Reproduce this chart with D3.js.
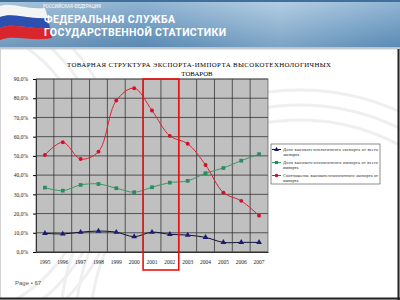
<!DOCTYPE html>
<html><head><meta charset="utf-8">
<script src="https://cdn.jsdelivr.net/npm/d3@7"></script>
<style>body{margin:0;background:#fff}svg{display:block}</style>
</head><body>
<script>
const years = ["1995","1996","1997","1998","1999","2000","2001","2002","2003","2004","2005","2006","2007"];
const exportShare = [9.7,9.4,10.3,10.9,10.3,8.0,10.3,9.2,8.8,7.6,5.0,5.0,5.0];
const importShare = [33.5,31.9,34.9,35.4,33.2,31.1,33.7,36.1,37.0,41.0,43.7,47.5,50.9];
const ratio = [50.5,57.1,48.4,52.2,78.8,85.2,73.6,60.4,56.3,45.3,30.9,26.6,18.9];
const yTicks = [0,10,20,30,40,50,60,70,80,90];
const seriesNames = ["Доля высокотехнологичного экспорта от всего экспорта","Доля высокотехнологичного импорта от всего импорта","Соотношение  высокотехнологичного экспорта от импорта"];
const highlight = ["2001","2002"];

const W=400,H=300;
const svg=d3.select("body").append("svg").attr("width",W).attr("height",H);
const defs=svg.append("defs");
const hg=defs.append("linearGradient").attr("id","hg").attr("x1",0).attr("x2",1).attr("y1",0).attr("y2",0);
hg.append("stop").attr("offset","0").attr("stop-color","#8fb2cf");
hg.append("stop").attr("offset","0.35").attr("stop-color","#6d9cc4");
hg.append("stop").attr("offset","0.7").attr("stop-color","#9cc0dc");
hg.append("stop").attr("offset","1").attr("stop-color","#6f9ec6");
const vg=defs.append("linearGradient").attr("id","vg").attr("x1",0).attr("x2",0).attr("y1",0).attr("y2",1);
vg.append("stop").attr("offset","0").attr("stop-color","#fff").attr("stop-opacity",0.25);
vg.append("stop").attr("offset","1").attr("stop-color","#1d4f80").attr("stop-opacity",0.25);

// slide background
svg.append("rect").attr("width",W).attr("height",H).attr("fill","#fff");
// faint arcs
[[300,330,210],[300,330,225],[300,330,240],[-60,170,150],[-60,170,165],[-60,170,180]].forEach(c=>{
  svg.append("circle").attr("cx",c[0]).attr("cy",c[1]).attr("r",c[2]).attr("fill","none").attr("stroke","#efefef").attr("stroke-width",3);
});
// header
svg.append("rect").attr("x",0).attr("y",0).attr("width",W).attr("height",47).attr("fill","url(#hg)");
svg.append("rect").attr("x",0).attr("y",0).attr("width",W).attr("height",47).attr("fill","url(#vg)");
svg.append("rect").attr("x",0).attr("y",0).attr("width",W).attr("height",2).attr("fill","#3f6f9a");
svg.append("rect").attr("x",0).attr("y",47).attr("width",W).attr("height",2).attr("fill","#b8c4ce");
// flag
svg.append("path").attr("d","M0,6 C12,2 25,10 45,8 L48,18 C28,20 14,12 0,17 Z").attr("fill","#f4f4f4");
svg.append("path").attr("d","M0,17 C14,12 28,20 48,18 L50,28 C30,30 14,22 0,28 Z").attr("fill","#2d4fb0");
svg.append("path").attr("d","M0,28 C14,22 30,30 50,28 L52,38 C32,42 14,34 0,40 Z").attr("fill","#d8262c");
svg.append("text").attr("x",43).attr("y",8).attr("font-family","Roboto, sans-serif").attr("font-size",4.5).attr("fill","#fff").text("РОССИЙСКАЯ ФЕДЕРАЦИЯ");
svg.append("text").attr("x",44).attr("y",23).attr("font-family","Roboto, sans-serif").attr("font-size",10.5).attr("font-weight","bold").attr("fill","#fff").attr("textLength",131).text("ФЕДЕРАЛЬНАЯ СЛУЖБА");
svg.append("text").attr("x",44).attr("y",35.5).attr("font-family","Roboto, sans-serif").attr("font-size",10.5).attr("font-weight","bold").attr("fill","#fff").attr("textLength",182).text("ГОСУДАРСТВЕННОЙ СТАТИСТИКИ");
// frame
svg.append("rect").attr("x",0.5).attr("y",49).attr("width",W-1.5).attr("height",H-49.5).attr("fill","none").attr("stroke","#d0d0d0").attr("stroke-width",1);
svg.append("line").attr("x1",0).attr("x2",W).attr("y1",298.5).attr("y2",298.5).attr("stroke","#222").attr("stroke-width",2);
svg.append("line").attr("x1",398.5).attr("x2",398.5).attr("y1",49).attr("y2",H).attr("stroke","#222").attr("stroke-width",2);

// title
const tf="'Liberation Serif', 'DejaVu Serif', serif";
svg.append("text").attr("x",199).attr("y",67).attr("text-anchor","middle").attr("font-family",tf).attr("font-size",6.8).attr("textLength",264).text("ТОВАРНАЯ СТРУКТУРА ЭКСПОРТА-ИМПОРТА ВЫСОКОТЕХНОЛОГИЧНЫХ");
svg.append("text").attr("x",197).attr("y",76).attr("text-anchor","middle").attr("font-family",tf).attr("font-size",6.8).text("ТОВАРОВ");

// scales
const x=d3.scaleBand().domain(years).range([36,268]);
const y=d3.scaleLinear().domain([0,90]).range([252,79]);
const cx=d=>x(d)+x.bandwidth()/2;

svg.append("rect").attr("x",36).attr("y",79).attr("width",232).attr("height",173).attr("fill","#c0c0c0");
const g=svg.append("g");
g.selectAll(".hg").data(yTicks).join("line").attr("x1",36).attr("x2",268).attr("y1",d=>y(d)).attr("y2",d=>y(d)).attr("stroke","#222").attr("stroke-width",0.7);
g.selectAll(".vg").data(years.slice(1)).join("line").attr("x1",d=>x(d)).attr("x2",d=>x(d)).attr("y1",79).attr("y2",252).attr("stroke","#222").attr("stroke-width",0.7);
svg.append("rect").attr("x",36).attr("y",79).attr("width",232).attr("height",173).attr("fill","none").attr("stroke","#555").attr("stroke-width",0.7);

// axes
const ya=svg.append("g").attr("transform","translate(36,0)").call(d3.axisLeft(y).tickValues(yTicks).tickSize(3).tickFormat(d=>d3.format(".1f")(d).replace(".",",")+"%"));
ya.select(".domain").attr("stroke","#333");
ya.selectAll("text").attr("font-family",tf).attr("font-size",5.5).attr("fill","#222").attr("dx",-2);
const xa=svg.append("g").attr("transform","translate(0,252)").call(d3.axisBottom(x).tickSize(0).tickPadding(8));
xa.select(".domain").attr("stroke","#333");
xa.selectAll("text").attr("font-family",tf).attr("font-size",5.5).attr("fill","#222");

// lines
const line=d3.line().x((d,i)=>cx(years[i])).y(d=>y(d)).curve(d3.curveCatmullRom.alpha(0.5));
const series=[{v:exportShare,c:"#111133",m:"#1a1a7a",t:"tri"},{v:importShare,c:"#3a9a6a",m:"#2e8b60",t:"sq"},{v:ratio,c:"#e02030",m:"#d0102a",t:"dot"}];
series.forEach(s=>{
  svg.append("path").attr("d",line(s.v)).attr("fill","none").attr("stroke",s.c).attr("stroke-width",1);
  const sym=s.t==="tri"?d3.symbolTriangle:s.t==="sq"?d3.symbolSquare:d3.symbolCircle;
  svg.selectAll(null).data(s.v).join("path").attr("transform",(d,i)=>`translate(${cx(years[i])},${y(d)})`)
    .attr("d",d3.symbol().type(sym).size(s.t==="dot"?12:14)).attr("fill",s.m);
});

// highlight box
svg.append("rect").attr("x",x(highlight[0])).attr("y",79).attr("width",x(highlight[1])+x.bandwidth()-x(highlight[0])).attr("height",191)
  .attr("fill","none").attr("stroke","#ee1111").attr("stroke-width",1.6);

// legend
const lg=svg.append("g");
lg.append("rect").attr("x",271).attr("y",144).attr("width",109).attr("height",40).attr("fill","#fff").attr("stroke","#444").attr("stroke-width",0.6);
const lgy=[149.5,162.5,175.5];
series.forEach((s,i)=>{
  lg.append("line").attr("x1",272).attr("x2",281).attr("y1",lgy[i]).attr("y2",lgy[i]).attr("stroke",s.c).attr("stroke-width",1);
  const sym=s.t==="tri"?d3.symbolTriangle:s.t==="sq"?d3.symbolSquare:d3.symbolCircle;
  lg.append("path").attr("transform",`translate(276.5,${lgy[i]})`).attr("d",d3.symbol().type(sym).size(10)).attr("fill",s.m);
  const words=seriesNames[i];
  const cut=words.lastIndexOf(" ");
  lg.append("text").attr("x",283).attr("y",lgy[i]+1.5).attr("font-family",tf).attr("font-size",4.3).attr("fill","#222").attr("textLength",95).text(words.slice(0,cut));
  lg.append("text").attr("x",283).attr("y",lgy[i]+6.5).attr("font-family",tf).attr("font-size",4.3).attr("fill","#222").text(words.slice(cut+1));
});

svg.append("text").attr("x",15).attr("y",285).attr("font-family","'Liberation Sans', sans-serif").attr("font-size",6).attr("fill","#555").text("Page • 67");
</script>
</body></html>
